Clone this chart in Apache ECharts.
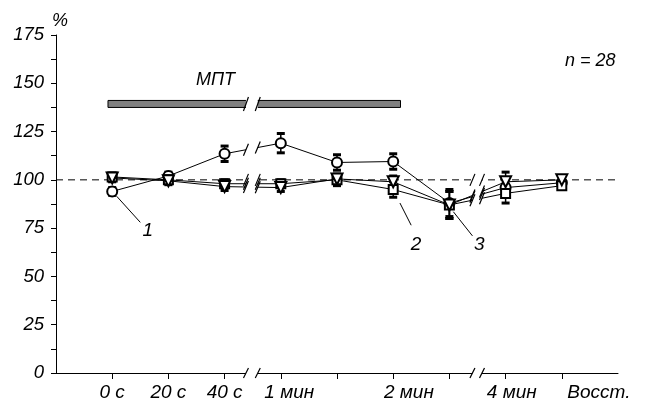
<!DOCTYPE html>
<html><head><meta charset="utf-8">
<script src="https://cdn.jsdelivr.net/npm/echarts@6/dist/echarts.min.js"></script>
<style>html,body{margin:0;padding:0;background:#fff}#c{width:646px;height:410px}</style>
</head><body><div id="c"></div>
<script>
// ---- data ----
const xPositions = [1, 2, 3, 4, 5, 6, 7, 8, 9];
const series1 = [94, 102, 113.5, 119, 109, 109.5, 88, 96, 98.5];   // circles, "1"
const err1    = [2, 2, 4, 5, 4, 4, 7, 5, 2];
const series2 = [101.5, 100, 98, 98, 100, 95, 87, 93, 97];         // squares, "2"
const err2    = [2, 2, 2, 2, 3, 4, 7, 5, 2];
const series3 = [101, 99.5, 96.5, 96, 100.5, 99, 87, 99, 100];     // triangles, "3"
const err3    = [2, 2, 2, 2, 2, 3, 7, 5, 2];
const tickLabels = ['0 с', '20 с', '40 с', '1 мин', '2 мин', '4 мин', 'Восст.'];
const tickLabelPositions = [1, 2, 3, 4.15, 6.28, 8.11, 9.66];
const tickPositions = [1, 2, 3, 4, 5, 6, 7, 8, 9];
const referenceLevel = 100;
const breaks = [[3.38, 3.59], [7.41, 7.58]];
const mptBar = [0.925, 6.13, 139.3];
const seriesNames = ['1', '2', '3'];
const leaderLines = [
  [[1.08, 91.5], [1.5, 78]],
  [[6.12, 88], [6.32, 76.5]],
  [[7.07, 83.5], [7.41, 71]]
];
const annotations = { mpt: 'МПТ', n: 'n = 28', unit: '%' };

// ---- chart ----
const FONT = '"Liberation Sans", Arial, sans-serif';
const allSeries = [series1, series2, series3];
const allErr = [err1, err2, err3];
const symbols = ['circle', 'rect', 'triangle'];
const symbolSizes = [10, 9, 11];
const symbolRot = [0, 0, 180];

function interp(vals, b) {
  for (let i = 0; i < xPositions.length - 1; i++) {
    if (xPositions[i] <= b && b <= xPositions[i + 1]) {
      const t = (b - xPositions[i]) / (xPositions[i + 1] - xPositions[i]);
      return vals[i] + t * (vals[i + 1] - vals[i]);
    }
  }
  return null;
}

const series = [];
series.push({
  type: 'line', data: [[0, referenceLevel], [10.4, referenceLevel]], clip: false,
  symbol: 'none', silent: true, z: 1,
  lineStyle: { color: '#000', width: 1, type: [7, 5] }
});
series.push({
  type: 'custom', z: 3, silent: true,
  data: [mptBar],
  renderItem: function (params, api) {
    const p0 = api.coord([api.value(0), api.value(2)]);
    const p1 = api.coord([api.value(1), api.value(2)]);
    return { type: 'rect', shape: { x: p0[0], y: p0[1] - 3.5, width: p1[0] - p0[0], height: 7 },
      style: { fill: '#808080', stroke: '#000', lineWidth: 1 } };
  }
});
allSeries.forEach(function (vals, k) {
  const errs = allErr[k];
  series.push({
    type: 'custom', z: 4, silent: true,
    data: xPositions.map((x, i) => [x, vals[i] - errs[i], vals[i] + errs[i]]),
    renderItem: function (params, api) {
      const top = api.coord([api.value(0), api.value(2)]);
      const bot = api.coord([api.value(0), api.value(1)]);
      const w = 4;
      return { type: 'group', children: [
        { type: 'line', shape: { x1: top[0], y1: top[1], x2: bot[0], y2: bot[1] }, style: { stroke: '#000', lineWidth: 1.5 } },
        { type: 'rect', shape: { x: top[0] - w, y: top[1] - 1.5, width: 2 * w, height: 3 }, style: { fill: '#000' } },
        { type: 'rect', shape: { x: bot[0] - w, y: bot[1] - 1.5, width: 2 * w, height: 3 }, style: { fill: '#000' } }
      ] };
    }
  });
});
allSeries.forEach(function (vals, k) {
  series.push({
    type: 'line', name: seriesNames[k], z: 5 + k,
    data: xPositions.map((x, i) => [x, vals[i]]),
    symbol: symbols[k], symbolSize: symbolSizes[k], symbolRotate: symbolRot[k],
    showAllSymbol: true,
    itemStyle: { color: '#fff', borderColor: '#000', borderWidth: 2 },
    lineStyle: { color: '#000', width: 1 },
    emphasis: { disabled: true }
  });
});
series.push({
  type: 'custom', z: 20, silent: true,
  data: breaks,
  renderItem: function (params, api) {
    const b0 = api.value(0), b1 = api.value(1);
    const top = api.coord([b0, 175]);
    const bl = api.coord([b0, 0]);
    const br = api.coord([b1, 0]);
    const children = [
      { type: 'rect', shape: { x: bl[0], y: top[1] - 2, width: br[0] - bl[0], height: bl[1] - top[1] + 4 }, style: { fill: '#fff' } }
    ];
    function slash(x, yv, h) {
      const p = api.coord([x, yv]);
      children.push({ type: 'line', shape: { x1: p[0] - 2.5, y1: p[1] + h, x2: p[0] + 2.5, y2: p[1] - h },
        style: { stroke: '#000', lineWidth: 1.2 } });
    }
    [b0, b1].forEach(function (b) {
      allSeries.forEach(function (vals) {
        const v = interp(vals, b);
        if (v !== null) slash(b, v, 6);
      });
      slash(b, referenceLevel, 6);
      slash(b, 0, 5);
      if (b >= mptBar[0] && b <= mptBar[1]) slash(b, mptBar[2], 7);
    });
    return { type: 'group', children: children };
  }
});
// leader lines with the series numbers, drawn above the break gaps
series.push({
  type: 'line', data: [], z: 30, silent: true,
  markLine: {
    z: 40, silent: true, symbol: 'none', animation: false,
    lineStyle: { color: '#000', width: 1, type: 'solid' },
    label: { show: true, position: 'end', color: '#000',
      fontStyle: 'italic', fontSize: 19, fontFamily: FONT, distance: 11,
      formatter: function (p) { return p.name; } },
    data: leaderLines.map((l, k) => [{ coord: l[0], name: seriesNames[k] }, { coord: l[1] }])
  }
});

const chart = echarts.init(document.getElementById('c'), null, { renderer: 'canvas' });
chart.setOption({
  animation: false,
  backgroundColor: '#fff',
  grid: { left: 56, right: 28, top: 35, bottom: 37, containLabel: false },
  xAxis: {
    type: 'value', min: 0, max: 10, interval: 1,
    splitLine: { show: false },
    axisLine: { show: true, lineStyle: { color: '#000', width: 1 } },
    axisTick: { show: true, length: 6, inside: false, customValues: tickPositions, lineStyle: { color: '#000' } },
    axisLabel: {
      show: true, customValues: tickLabelPositions, margin: 10, hideOverlap: false,
      color: '#000', fontStyle: 'italic', fontSize: 19, fontFamily: FONT,
      formatter: function (v) {
        const i = tickLabelPositions.findIndex(p => Math.abs(p - v) < 1e-6);
        return i >= 0 ? tickLabels[i] : '';
      }
    }
  },
  yAxis: {
    type: 'value', min: 0, max: 175, interval: 25,
    name: annotations.unit, nameLocation: 'end', nameGap: 5,
    nameTextStyle: { color: '#000', fontStyle: 'italic', fontSize: 18, fontFamily: FONT, padding: [0, 0, 0, 8] },
    splitLine: { show: false },
    axisLine: { show: true, lineStyle: { color: '#000', width: 1 } },
    axisTick: { show: true, length: 5, lineStyle: { color: '#000' } },
    minorTick: { show: true, splitNumber: 2, length: 5, lineStyle: { color: '#000' } },
    axisLabel: { color: '#000', fontStyle: 'italic', fontSize: 18.5, fontFamily: FONT, margin: 12 }
  },
  graphic: [
    { type: 'text', left: 196, top: 71, style: { text: annotations.mpt, fill: '#000', font: 'italic 18px ' + FONT } },
    { type: 'text', left: 565, top: 52, style: { text: annotations.n, fill: '#000', font: 'italic 18px ' + FONT } }
  ],
  series: series
});
</script>
</body></html>
